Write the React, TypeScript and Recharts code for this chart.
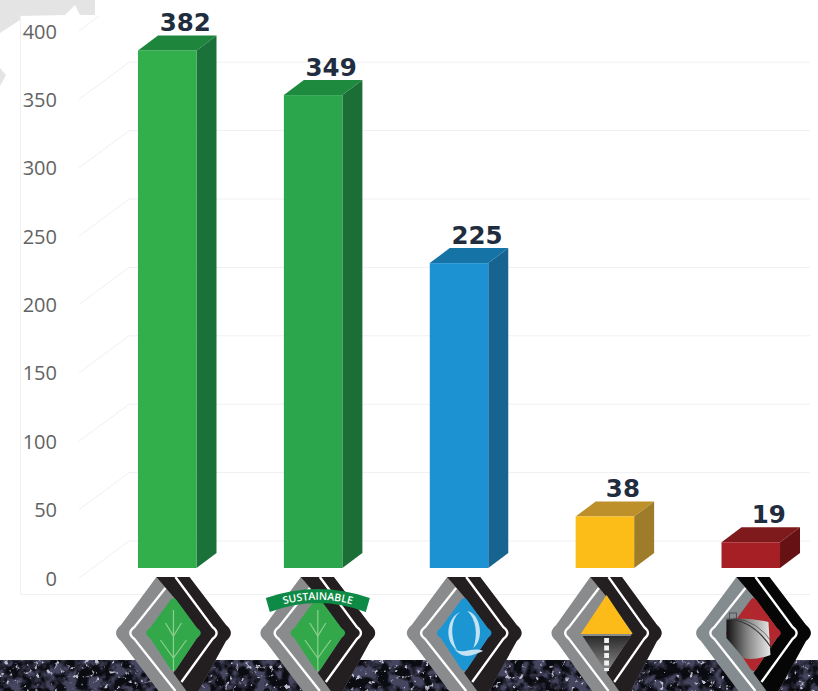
import React from "react";
import { ComposedChart, Bar, Line, XAxis, YAxis, LabelList } from "recharts";

const categories = ["Leaf", "Sustainable", "Quality", "Road", "Tank"];
const wells = [382, 349, 225, 38, 19];
const axisTicks = [0, 50, 100, 150, 200, 250, 300, 350, 400];

const rows = categories.map((name, i) => ({ name, wells: wells[i] }));

const FACES: Record<string, { front: string; top: string; side: string }> = {
  Leaf: { front: "#32ae4b", top: "#1d863c", side: "#1a7139" },
  Sustainable: { front: "#2ca64c", top: "#1e8a3d", side: "#1b6e35" },
  Quality: { front: "#1c92d2", top: "#1673a6", side: "#176491" },
  Road: { front: "#fdbd19", top: "#bd902b", side: "#9e7c2a" },
  Tank: { front: "#a61f24", top: "#7f1a1c", side: "#661215" },
};
const DX = 20;
const DY = 15;

const Bar3D = (p: any) => {
  const { x, y, width, height, payload } = p;
  const c = FACES[payload.name];
  const r = x + width;
  const b = y + height;
  return (
    <g>
      <polygon points={`${x},${y} ${x + DX},${y - DY} ${r + DX},${y - DY} ${r},${y}`} fill={c.top} />
      <polygon points={`${r},${y} ${r + DX},${y - DY} ${r + DX},${b - DY} ${r},${b}`} fill={c.side} />
      <rect x={x} y={y} width={width} height={height} fill={c.front} />
    </g>
  );
};

const ValueLabel = (p: any) => {
  const { x, y, width, value } = p;
  return (
    <text
      x={x + width / 2 + 18}
      y={y - DY - 13}
      textAnchor="middle"
      dominantBaseline="central"
      fontFamily="DejaVu Sans"
      fontWeight={700}
      fontSize={24.5}
      fill="#1f2d3f"
    >
      {value}
    </text>
  );
};

const GRID = "#f0f0f0";
const YTick = (p: any) => {
  const { y, payload } = p;
  const v = payload.value;
  const isTop = v === 400;
  return (
    <g>
      <line x1={79} y1={y} x2={isTop ? 99 : 129} y2={isTop ? y - 15 : y - 37} stroke={GRID} strokeWidth={1} />
      <text x={57} y={y} textAnchor="end" dominantBaseline="central" fontFamily="Open Sans" fontSize={20} fill="#636363">
        {v}
      </text>
    </g>
  );
};

const LOGO_SHIFT: Record<string, number> = { Leaf: 6.5, Sustainable: 5, Quality: 5.5, Road: 2, Tank: 3 };
const LOGO_SCALE: Record<string, number> = { Leaf: 1, Sustainable: 1, Quality: 1, Road: 0.96, Tank: 1 };

const INNER = "M-3,-33 Q0,-37 3,-33 L23.5,-5 C28.5,-2 28.5,2 23.5,5 L3,36 Q0,40 -3,36 L-23.5,5 C-28.5,2 -28.5,-2 -23.5,-5 Z";
const OUTER_RIGHT = "L52.5,-8 C59,-3 59,3 52.5,8 L25,58";

const Inner = ({ name }: { name: string }) => {
  if (name === "Leaf" || name === "Sustainable") {
    return (
      <g>
        <path d={INNER} fill="#33a84b" />
        <g stroke="#8ecf8e" strokeWidth={1.2} fill="none">
          <path d="M0,-23 L0,38" />
          <path d="M-8,-10 L0,3 L8,-10" />
          <path d="M-13,7 L0,25 L13,7" />
        </g>
      </g>
    );
  }
  if (name === "Quality") {
    return (
      <g>
        <path d={INNER} fill="#1c95d3" />
        <path d="M-4,-21 C-17,-16 -21,8 -7,17 C-14,4 -14,-14 -4,-21 Z" fill="#c3e2f3" />
        <path d="M3,-22 C16,-20 21,6 9,15 C14,2 12,-14 3,-22 Z" fill="#c3e2f3" />
        <path d="M-11,15 C-2,23 8,13 19,18 C8,22 0,28 -11,15 Z" fill="#c3e2f3" />
      </g>
    );
  }
  if (name === "Road") {
    return (
      <g>
        <path d="M0,-38 L27,1 L-27,1 Z" fill="#fdbb1a" />
        <path d="M-25,3 L25,3 L1,38 L-1,38 Z" fill="url(#roadFill)" />
        <path d="M0,5 L0,38" stroke="#f2f2f2" strokeWidth={5} strokeDasharray="5 2.5" />
      </g>
    );
  }
  return (
    <g>
      <path d={INNER} fill="#b0282e" />
      <path d="M-27,-13 Q-10,-17 15,-11 L17,22 Q0,28 -10,25 L-27,5 Z" fill="url(#tankFill)" />
      <path d="M-27,-14 Q0,-13 18,15" fill="none" stroke="#333" strokeWidth={1.2} />
      <path d="M-20,-15 Q5,-12 19,10" fill="none" stroke="#444" strokeWidth={0.7} />
      <rect x={-24} y={-20} width={7} height={6} fill="none" stroke="#444" strokeWidth={0.8} />
    </g>
  );
};

const XLogo = (p: any) => {
  const { x, y, payload } = p;
  const name: string = payload.value;
  const tank = name === "Tank";
  const grey = tank ? "#858c90" : "#8a8b8d";
  const black = tank ? "#060606" : "#231f20";
  const s = LOGO_SCALE[name];
  return (
    <g transform={`translate(${x + LOGO_SHIFT[name]},${y + 49}) scale(${s},1)`}>
      <path d={`M-17,-56 L16,-56 ${OUTER_RIGHT} L-15,58 L-52.5,8 C-59,3 -59,-3 -52.5,-8 Z`} fill={grey} />
      <path d={`M-17,-56 L16,-56 ${OUTER_RIGHT} L13,58 L0,40 L27,0 L1,-35 Z`} fill={black} />
      <path d="M2,-56 L39,-6 C44.5,-2 44.5,2 39,6 L8,49" fill="none" stroke="#fff" strokeWidth={2.4} />
      <path d="M-8,-45 L-39,-6 C-44.5,-2 -44.5,2 -39,6 L2,58" fill="none" stroke="#fff" strokeWidth={2.4} />
      <Inner name={name} />
      {name === "Sustainable" && (
        <g>
          <path d="M-52,-35 Q0,-53 52,-35 L48,-21 Q0,-39 -48,-21 Z" fill="#0d8a45" />
          <path id="bannerArc" d="M-44,-25.5 Q0,-41 44,-25.5" fill="none" />
          <text fontFamily="Open Sans" fontWeight={600} fontSize={10.5} fill="#fff">
            <textPath href="#bannerArc" startOffset="50%" textAnchor="middle">
              SUSTAINABLE
            </textPath>
          </text>
        </g>
      )}
    </g>
  );
};

export default function App() {
  return (
    <div style={{ position: "fixed", left: 0, top: 0, width: 818, height: 691, overflow: "hidden", background: "#fff" }}>
      <svg width={818} height={691} style={{ position: "absolute", left: 0, top: 0 }}>
        <defs>
          <filter id="gravelA" x="0" y="0" width="100%" height="100%">
            <feTurbulence type="fractalNoise" baseFrequency="0.09" numOctaves={3} seed={4} />
            <feColorMatrix type="matrix" values="0 0 0 0 0  0 0 0 0 0  0 0 0 0 0  3 3 0 0 -2.6" result="n" />
            <feFlood floodColor="#45455f" />
            <feComposite in2="n" operator="in" />
          </filter>
          <filter id="gravelB" x="0" y="0" width="100%" height="100%">
            <feTurbulence type="fractalNoise" baseFrequency="0.2" numOctaves={3} seed={9} />
            <feColorMatrix type="matrix" values="0 0 0 0 0  0 0 0 0 0  0 0 0 0 0  5 5 0 0 -6" result="n" />
            <feFlood floodColor="#bebed0" />
            <feComposite in2="n" operator="in" />
          </filter>
        </defs>
        <polygon points="0,0 95,0 95,15 80,15 75,5 65,15 20,16 20,20 0,33" fill="#e4e4e4" />
        <polygon points="0,68 6,75 0,86" fill="#e4e4e4" />
        <rect x={0} y={660} width={818} height={31} fill="#0b0b12" />
        <rect x={0} y={660} width={818} height={31} filter="url(#gravelA)" />
        <rect x={0} y={660} width={818} height={31} filter="url(#gravelB)" />
        <line x1={20.5} y1={15} x2={20.5} y2={594.5} stroke={GRID} />
        <line x1={20.5} y1={594.5} x2={810} y2={594.5} stroke={GRID} />
        {axisTicks.slice(0, -1).map((t) => (
          <line key={t} x1={129} x2={810} y1={541 - (t / 50) * 68.4} y2={541 - (t / 50) * 68.4} stroke={GRID} />
        ))}
      </svg>
      <div style={{ position: "absolute", left: 0, top: 0 }}>
        <ComposedChart
          width={840}
          height={691}
          data={rows}
          margin={{ top: 31, right: 16.6, bottom: 0, left: 0 }}
          style={{ background: "transparent" }}
        >
          <defs>
            <linearGradient id="roadFill" x1="0" y1="0" x2="0" y2="1">
              <stop offset="0" stopColor="#2a2a2a" />
              <stop offset="1" stopColor="#8c8c8c" />
            </linearGradient>
            <linearGradient id="tankFill" x1="0" y1="0" x2="1" y2="0">
              <stop offset="0" stopColor="#111" />
              <stop offset="0.5" stopColor="#8a8a8a" />
              <stop offset="1" stopColor="#e8e8e8" />
            </linearGradient>
          </defs>
          <XAxis
            dataKey="name"
            xAxisId="cat"
            height={113}
            tickLine={false}
            axisLine={false}
            tickMargin={0}
            interval={0}
            tick={<XLogo />}
          />
          <YAxis
            yAxisId="scale"
            width={94}
            domain={[0, 400]}
            ticks={axisTicks}
            interval={0}
            tickLine={false}
            axisLine={false}
            tick={<YTick />}
          />
          <YAxis yAxisId="bars" hide domain={[-7.38, 396.3]} allowDataOverflow />
          <Line
            dataKey="wells"
            xAxisId="cat"
            yAxisId="scale"
            stroke="none"
            dot={false}
            activeDot={false}
            legendType="none"
            isAnimationActive={false}
          />
          <Bar dataKey="wells" xAxisId="cat" yAxisId="bars" barSize={58.5} shape={<Bar3D />} isAnimationActive={false}>
            <LabelList dataKey="wells" content={<ValueLabel />} />
          </Bar>
        </ComposedChart>
      </div>
    </div>
  );
}
